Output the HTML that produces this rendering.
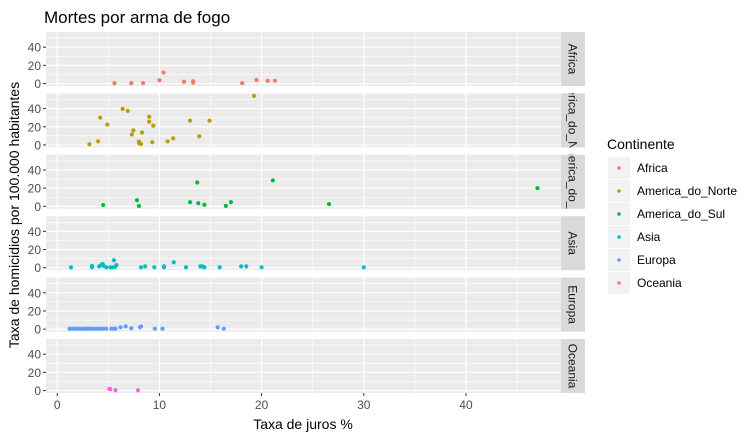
<!DOCTYPE html>
<html><head><meta charset="utf-8">
<style>
html,body{margin:0;padding:0;background:#fff;}
svg{display:block;font-family:"Liberation Sans",Arial,sans-serif;}
</style></head>
<body>
<svg id="chart" width="755" height="438" viewBox="0 0 755 438" xmlns="http://www.w3.org/2000/svg">
<text x="44" y="23" font-size="17" fill="#000">Mortes por arma de fogo</text>
<text transform="translate(19,215) rotate(-90)" text-anchor="middle" font-size="14" fill="#000">Taxa de homicidios por 100.000 habitantes</text>
<text x="303" y="429" text-anchor="middle" font-size="14" fill="#000">Taxa de juros %</text>
<g id="panels"></g>
<g id="legend"></g>
</svg>
<script>
const continents = ["Africa","America_do_Norte","America_do_Sul","Asia","Europa","Oceania"];
const colors = ["#F8766D","#B79F00","#00BA38","#00BFC4","#619CFF","#F564E3"];
const xTicks = [0,10,20,30,40];
const yTicks = [0,20,40];
const africaX = [5.6,7.25,8.4,10.0,10.4,12.4,13.3,13.3,18.1,19.5,20.6,21.3];
const africaY = [0.5,0.5,0.5,3.6,12.2,2,2.5,1,0.5,4,3,3];
const norteX = [3.15,4.0,4.2,4.9,6.4,6.9,7.3,7.45,8.3,8.0,8.0,8.2,9.0,9.0,9.4,9.3,10.8,11.35,13.0,13.9,14.9,19.25];
const norteY = [0.8,4,30,22.4,39.7,37.5,11.6,16,13.7,3.7,2,1,31,25.6,21.3,3,4,7.2,26.7,9.4,26.7,54];
const sulX = [4.5,7.8,8.0,13.7,13.0,13.8,14.4,16.5,17.0,21.1,26.6,47.0];
const sulY = [1.4,6.8,0.3,26.3,4.6,3.5,1.8,0.5,4.6,28.5,2.5,20];
const asiaX = [1.35,3.4,3.4,4.1,4.3,4.45,4.55,4.8,5.2,5.4,5.55,5.65,5.8,8.2,8.6,9.5,10.45,10.45,11.4,12.6,14.0,14.2,14.4,15.9,18.0,18.5,20.0,30.0];
const asiaY = [0.5,2,0.5,1.5,3,4,2,0.5,0.5,0.5,8.2,1,3,0.5,1.5,0.5,1.5,0.5,6,0.5,1.5,1.5,0.5,0.5,1.5,1.5,0.5,0.5];
const europaX = [1.2,1.4,1.6,1.8,2.0,2.2,2.5,2.7,2.9,3.1,3.3,3.5,3.8,4.1,4.3,4.5,4.8,5.3,5.5,5.7,6.2,6.7,7.25,8.1,8.2,9.55,10.3,15.7,16.3];
const europaY = [0.5,0.5,0.5,0.5,0.5,0.5,0.5,0.5,0.5,0.5,0.5,0.5,0.5,0.5,0.5,0.5,0.5,0.5,0.5,0.5,2,3,1,2,3,0.5,0.5,2,0.5];
const oceaniaX = [5.1,5.2,5.7,7.9];
const oceaniaY = [1.8,1.5,0.3,0.3];
const seriesX = [africaX,norteX,sulX,asiaX,europaX,oceaniaX];
const seriesY = [africaY,norteY,sulY,asiaY,europaY,oceaniaY];

const NS="http://www.w3.org/2000/svg";
const PL=46, PR=561, SW=24, PH=54, TOP0=32, STEP=61.4;
const XMIN=-1.1, XMAX=49.3, YMIN=-2.7, YMAX=56.7;
function xs(v){return PL+(v-XMIN)/(XMAX-XMIN)*(PR-PL);}
function ys(v,top){return top+PH-(v-YMIN)/(YMAX-YMIN)*PH;}
function mk(tag,attrs,parent){const e=document.createElementNS(NS,tag);for(const k in attrs)e.setAttribute(k,attrs[k]);parent.appendChild(e);return e;}
const panels=document.getElementById('panels');
const defs=mk('defs',{},document.getElementById('chart'));
continents.forEach((c,i)=>{
  const top=TOP0+i*STEP;
  const g=mk('g',{},panels);
  
  
  const bg=mk('rect',{x:PL,y:top,width:PR-PL,height:PH,fill:'#EBEBEB'},g);
  
  
  for(let v=5;v<XMAX;v+=10){mk('line',{x1:xs(v),x2:xs(v),y1:top,y2:top+PH,stroke:'#fff','stroke-width':0.6},g);}
  for(let v=10;v<YMAX;v+=20){mk('line',{x1:PL,x2:PR,y1:ys(v,top),y2:ys(v,top),stroke:'#fff','stroke-width':0.6},g);}
  xTicks.forEach(v=>{mk('line',{x1:xs(v),x2:xs(v),y1:top,y2:top+PH,stroke:'#fff','stroke-width':1.2},g);});
  yTicks.forEach(v=>{
    mk('line',{x1:PL,x2:PR,y1:ys(v,top),y2:ys(v,top),stroke:'#fff','stroke-width':1.2},g);
    mk('line',{x1:PL-3,x2:PL,y1:ys(v,top),y2:ys(v,top),stroke:'#333','stroke-width':1},g);
    const t=mk('text',{x:PL-5,y:ys(v,top)+4.5,'text-anchor':'end','font-size':12,fill:'#4D4D4D'},g);
    
    
    t.textContent=v;
  });
  const xv=seriesX[i], yv=seriesY[i];
  for(let k=0;k<xv.length;k++){
    const p=mk('circle',{cx:xs(xv[k]),cy:ys(yv[k],top),r:2.1,fill:colors[i]},g);
    
    
  }
  const cp=mk('clipPath',{id:'clip'+i},defs);
  mk('rect',{x:PR,y:top,width:SW,height:PH},cp);
  const st=mk('rect',{x:PR,y:top,width:SW,height:PH,fill:'#D9D9D9'},g);
  
  
  const sg=mk('g',{'clip-path':'url(#clip'+i+')'},g);
  const tx=mk('text',{transform:`translate(${PR+SW/2-4.5},${top+PH/2}) rotate(90)`,'text-anchor':'middle','font-size':12,fill:'#1A1A1A'},sg);
  
  
  tx.textContent=c;
});
const lastTop=TOP0+5*STEP+PH;
xTicks.forEach(v=>{
  mk('line',{x1:xs(v),x2:xs(v),y1:lastTop,y2:lastTop+3,stroke:'#333','stroke-width':1},panels);
  const t=mk('text',{x:xs(v),y:lastTop+16,'text-anchor':'middle','font-size':12,fill:'#4D4D4D'},panels);
  
  
  t.textContent=v;
});
const lg=document.getElementById('legend');
const lt=mk('text',{x:607,y:149,'font-size':14,fill:'#000'},lg);


lt.textContent='Continente';
continents.forEach((c,i)=>{
  const y=157+i*23;
  const e=mk('g',{},lg);
  
  
  mk('rect',{x:608,y:y,width:22,height:22,fill:'#F2F2F2'},e);
  mk('circle',{cx:619,cy:y+11,r:1.8,fill:colors[i]},e);
  const t=mk('text',{x:637,y:y+15,'font-size':12,fill:'#000'},e);
  t.textContent=c;
});
</script>
</body></html>
